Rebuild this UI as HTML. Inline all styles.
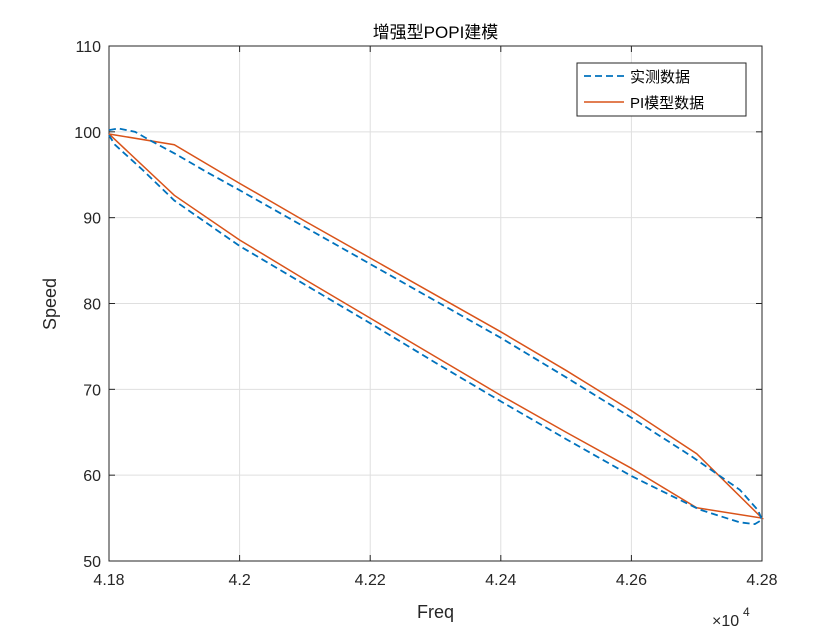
<!DOCTYPE html>
<html><head><meta charset="utf-8"><style>
body{margin:0;background:#fff;}
svg{font-family:"Liberation Sans","Noto Sans CJK SC",sans-serif;}
</style></head><body>
<svg id="chart" width="840" height="630"></svg>
<script>
const xTicks=[41800,42000,42200,42400,42600,42800];
const xTickLabels=["4.18","4.2","4.22","4.24","4.26","4.28"];
const yTicks=[50,60,70,80,90,100,110];
const measX=[41800,41814,41840,41863,41900,41950,42000,42100,42200,42300,42400,42500,42600,42690,42766,42794,42800,42789,42766,42704,42600,42500,42400,42300,42200,42100,42000,41900,41851,41809,41800];
const measY=[100.2,100.4,100.0,99.0,97.5,95.3,93.2,88.9,84.6,80.3,76.0,71.4,66.7,62.3,58.3,55.9,54.8,54.3,54.5,56.0,59.9,64.2,68.6,73.1,77.7,82.2,86.7,92.0,95.6,98.5,99.6];
const piX=[41800,41900,42000,42100,42200,42300,42400,42500,42600,42700,42800,42700,42600,42500,42400,42300,42200,42100,42000,41900,41800];
const piY=[99.75,98.5,94.0,89.6,85.3,81.0,76.7,72.2,67.5,62.5,55.0,56.2,60.8,65.0,69.3,73.8,78.3,82.8,87.4,92.6,99.75];
const L=109,R=762,T=46,B=561;
const sx=v=>L+(v-41800)/1000*(R-L);
const sy=v=>B-(v-50)/60*(B-T);
const svg=document.getElementById('chart');
const NS='http://www.w3.org/2000/svg';
function el(t,a,txt){const e=document.createElementNS(NS,t);for(const k in a)e.setAttribute(k,a[k]);if(txt!=null)e.textContent=txt;svg.appendChild(e);return e;}
let e=el('rect',{x:L,y:T,width:R-L,height:B-T,fill:'#fff'});


xTicks.forEach((t,i)=>{
 e=el('line',{x1:sx(t),x2:sx(t),y1:T,y2:B,stroke:'#dfdfdf','stroke-width':1});
 
 
 el('line',{x1:sx(t),x2:sx(t),y1:B,y2:B-6,stroke:'#262626'});
 el('line',{x1:sx(t),x2:sx(t),y1:T,y2:T+6,stroke:'#262626'});
 e=el('text',{x:sx(t),y:B+24,'text-anchor':'middle','font-size':16,fill:'#262626'},xTickLabels[i]);
 
 
});
yTicks.forEach(t=>{
 e=el('line',{x1:L,x2:R,y1:sy(t),y2:sy(t),stroke:'#dfdfdf','stroke-width':1});
 
 
 el('line',{x1:L,x2:L+6,y1:sy(t),y2:sy(t),stroke:'#262626'});
 el('line',{x1:R,x2:R-6,y1:sy(t),y2:sy(t),stroke:'#262626'});
 e=el('text',{x:L-8,y:sy(t)+6,'text-anchor':'end','font-size':16,fill:'#262626'},String(t));
 
 
});
e=el('rect',{x:L,y:T,width:R-L,height:B-T,fill:'none',stroke:'#262626','stroke-width':1});


e=el('polyline',{points:piX.map((x,i)=>sx(x)+','+sy(piY[i])).join(' '),fill:'none',stroke:'#d95319','stroke-width':1.5});


e=el('polyline',{points:measX.map((x,i)=>sx(x)+','+sy(measY[i])).join(' '),fill:'none',stroke:'#0072bd','stroke-width':1.8,'stroke-dasharray':'7,4'});


e=el('text',{x:(L+R)/2,y:38,'text-anchor':'middle','font-size':17,fill:'#000'},'增强型POPI建模');


e=el('text',{x:(L+R)/2,y:618,'text-anchor':'middle','font-size':18,fill:'#262626'},'Freq');


e=el('text',{x:0,y:0,'text-anchor':'middle','font-size':18,fill:'#262626',transform:'translate(56,304) rotate(-90)'},'Speed');


e=el('text',{x:712,y:626,'font-size':16,fill:'#262626'},'×10');


el('text',{x:743,y:616,'font-size':12,fill:'#262626'},'4');
e=el('rect',{x:577,y:63,width:169,height:53,fill:'#fff',stroke:'#262626','stroke-width':1});


e=el('line',{x1:584,x2:624,y1:76,y2:76,stroke:'#0072bd','stroke-width':1.8,'stroke-dasharray':'7,4'});


el('text',{x:630,y:82,'font-size':15,fill:'#000'},'实测数据');
e=el('line',{x1:584,x2:624,y1:102,y2:102,stroke:'#d95319','stroke-width':1.5});


el('text',{x:630,y:108,'font-size':15,fill:'#000'},'PI模型数据');
</script>
</body></html>
